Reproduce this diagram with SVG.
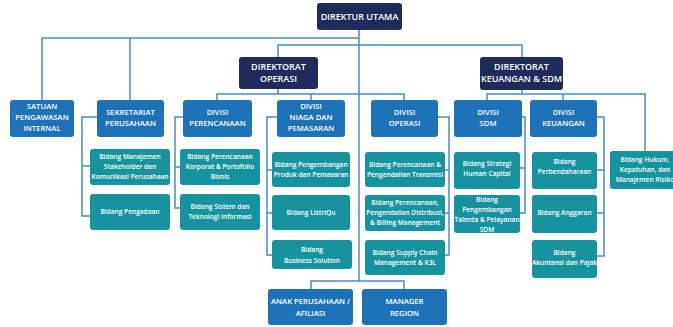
<svg xmlns="http://www.w3.org/2000/svg" width="673" height="327" viewBox="0 0 673 327">
<style>
.dir{fill:#1f2b5b}
.div{fill:#1d72b8}
.bid{fill:#17939f}
.t{font-family:"Open Sans","Noto Sans",sans-serif;fill:#fff;text-anchor:middle}
.td{font-size:9px;font-weight:600}
.tv{font-size:7.7px;font-weight:600}
.tb{font-size:6.6px;font-weight:600}
.c{fill:none;stroke:#4a8cc2;stroke-width:1.5}
</style>
<rect width="673" height="327" fill="#fff"/>
<g id="connectors" class="c">
<path d="M359,30V281"/>
<path d="M42,100V38H359"/>
<path d="M130,38V100"/>
<path d="M278,57V45H522V57"/>
<path d="M278,89V94M217,100V94H404V100M311,94V100"/>
<path d="M522,90V94M487,100V94H645V151M563,94V100"/>
<path d="M311,289V281H404V289"/>
<path d="M97,117H82V216H90M82,166H90"/>
<path d="M183,117H175V208H180M175,167H180"/>
<path d="M277,117H267V255H272M267,170H272M267,213H272"/>
<path d="M438,117H449V255H445M449,170H445M449,213H445"/>
<path d="M522,117H525V213H520M525,168H520"/>
<path d="M597,117H604V256H597M604,170H597M604,213H597"/>
</g>
<g id="direktur-utama"><rect class="dir" x="317" y="3" width="85" height="27" rx="3"/><text class="t td" x="359.5" y="19.5">DIREKTUR UTAMA</text></g>
<g id="direktorat-operasi"><rect class="dir" x="239" y="57" width="79" height="32" rx="3"/><text class="t td" x="278.5" y="70">DIREKTORAT</text><text class="t td" x="278.5" y="82">OPERASI</text></g>
<g id="direktorat-keuangan"><rect class="dir" x="480" y="57" width="83" height="33" rx="3"/><text class="t td" x="521.5" y="70">DIREKTORAT</text><text class="t td" x="521.5" y="82">KEUANGAN &amp; SDM</text></g>
<g id="spi"><rect class="div" x="10" y="100" width="64" height="37" rx="3"/><text class="t tv" x="42" y="109">SATUAN</text><text class="t tv" x="42" y="120">PENGAWASAN</text><text class="t tv" x="42" y="131">INTERNAL</text></g>
<g id="sekretariat"><rect class="div" x="97" y="100" width="67" height="37" rx="3"/><text class="t tv" x="130.5" y="115">SEKRETARIAT</text><text class="t tv" x="130.5" y="126">PERUSAHAAN</text></g>
<g id="div-perencanaan"><rect class="div" x="183" y="100" width="69" height="37" rx="3"/><text class="t tv" x="217.5" y="115">DIVISI</text><text class="t tv" x="217.5" y="126">PERENCANAAN</text></g>
<g id="div-niaga"><rect class="div" x="277" y="100" width="68" height="37" rx="3"/><text class="t tv" x="311" y="109">DIVISI</text><text class="t tv" x="311" y="120">NIAGA DAN</text><text class="t tv" x="311" y="131">PEMASARAN</text></g>
<g id="div-operasi"><rect class="div" x="371" y="100" width="67" height="37" rx="3"/><text class="t tv" x="404.5" y="115">DIVISI</text><text class="t tv" x="404.5" y="126">OPERASI</text></g>
<g id="div-sdm"><rect class="div" x="454" y="100" width="68" height="37" rx="3"/><text class="t tv" x="488" y="115">DIVISI</text><text class="t tv" x="488" y="126">SDM</text></g>
<g id="div-keuangan"><rect class="div" x="530" y="100" width="67" height="37" rx="3"/><text class="t tv" x="563.5" y="115">DIVISI</text><text class="t tv" x="563.5" y="126">KEUANGAN</text></g>
<g id="b-stakeholder"><rect class="bid" x="90" y="149" width="80" height="36" rx="3"/><text class="t tb" x="130" y="159">Bidang Manajemen</text><text class="t tb" x="130" y="169">Stakeholder dan</text><text class="t tb" x="130" y="179">Komunikasi Perusahaan</text></g>
<g id="b-pengadaan"><rect class="bid" x="90" y="194" width="80" height="36" rx="3"/><text class="t tb" x="130" y="214">Bidang Pengadaan</text></g>
<g id="b-korporat"><rect class="bid" x="180" y="149" width="80" height="36" rx="3"/><text class="t tb" x="220" y="159">Bidang Perencanaan</text><text class="t tb" x="220" y="169">Korporat &amp; Portofolio</text><text class="t tb" x="220" y="179">Bisnis</text></g>
<g id="b-sti"><rect class="bid" x="180" y="194" width="80" height="36" rx="3"/><text class="t tb" x="220" y="209">Bidang Sistem dan</text><text class="t tb" x="220" y="219">Teknologi Informasi</text></g>
<g id="b-produk"><rect class="bid" x="272" y="152" width="78" height="35" rx="3"/><text class="t tb" x="311" y="167">Bidang Pengembangan</text><text class="t tb" x="311" y="177">Produk dan Pemasaran</text></g>
<g id="b-listriqu"><rect class="bid" x="272" y="195" width="78" height="35" rx="3"/><text class="t tb" x="311" y="215">Bidang ListriQu</text></g>
<g id="b-business"><rect class="bid" x="272" y="240" width="80" height="29" rx="3"/><text class="t tb" x="312" y="252">Bidang</text><text class="t tb" x="312" y="263">Business Solution</text></g>
<g id="b-transmisi"><rect class="bid" x="365" y="152" width="80" height="35" rx="3"/><text class="t tb" x="405" y="167">Bidang Perencanaan &amp;</text><text class="t tb" x="405" y="177">Pengendalian Transmisi</text></g>
<g id="b-distribusi"><rect class="bid" x="365" y="195" width="80" height="36" rx="3"/><text class="t tb" x="405" y="205">Bidang Perencanaan,</text><text class="t tb" x="405" y="215">Pengendalian Distribusi,</text><text class="t tb" x="405" y="225">&amp; Billing Management</text></g>
<g id="b-supply"><rect class="bid" x="365" y="240" width="80" height="35" rx="3"/><text class="t tb" x="405" y="255">Bidang Supply Chain</text><text class="t tb" x="405" y="265">Management &amp; K3L</text></g>
<g id="b-human-capital"><rect class="bid" x="454" y="152" width="66" height="37" rx="3"/><text class="t tb" x="487" y="166">Bidang Strategi</text><text class="t tb" x="487" y="176">Human Capital</text></g>
<g id="b-talenta"><rect class="bid" x="454" y="195" width="66" height="38" rx="3"/><text class="t tb" x="487" y="202">Bidang</text><text class="t tb" x="487" y="212">Pengembangan</text><text class="t tb" x="487" y="222">Talenta &amp; Pelayanan</text><text class="t tb" x="487" y="232">SDM</text></g>
<g id="b-perbendaharaan"><rect class="bid" x="532" y="152" width="65" height="37" rx="3"/><text class="t tb" x="564.5" y="164">Bidang</text><text class="t tb" x="564.5" y="174">Perbendaharaan</text></g>
<g id="b-anggaran"><rect class="bid" x="532" y="195" width="65" height="38" rx="3"/><text class="t tb" x="564.5" y="215">Bidang Anggaran</text></g>
<g id="b-akuntansi"><rect class="bid" x="532" y="240" width="65" height="38" rx="3"/><text class="t tb" x="564.5" y="255">Bidang</text><text class="t tb" x="564.5" y="265">Akuntansi dan Pajak</text></g>
<g id="b-hukum"><rect class="bid" x="610" y="151" width="72" height="38" rx="3"/><text class="t tb" x="645" y="162">Bidang Hukum,</text><text class="t tb" x="645" y="172">Kepatuhan, dan</text><text class="t tb" x="645" y="182">Manajemen Risiko</text></g>
<g id="anak-perusahaan"><rect class="div" x="268" y="289" width="85" height="36" rx="3"/><text class="t tv" x="310.5" y="304">ANAK PERUSAHAAN  /</text><text class="t tv" x="310.5" y="316">AFILIASI</text></g>
<g id="manager-region"><rect class="div" x="362" y="289" width="85" height="36" rx="3"/><text class="t tv" x="404.5" y="304">MANAGER</text><text class="t tv" x="404.5" y="316">REGION</text></g>
</svg>
